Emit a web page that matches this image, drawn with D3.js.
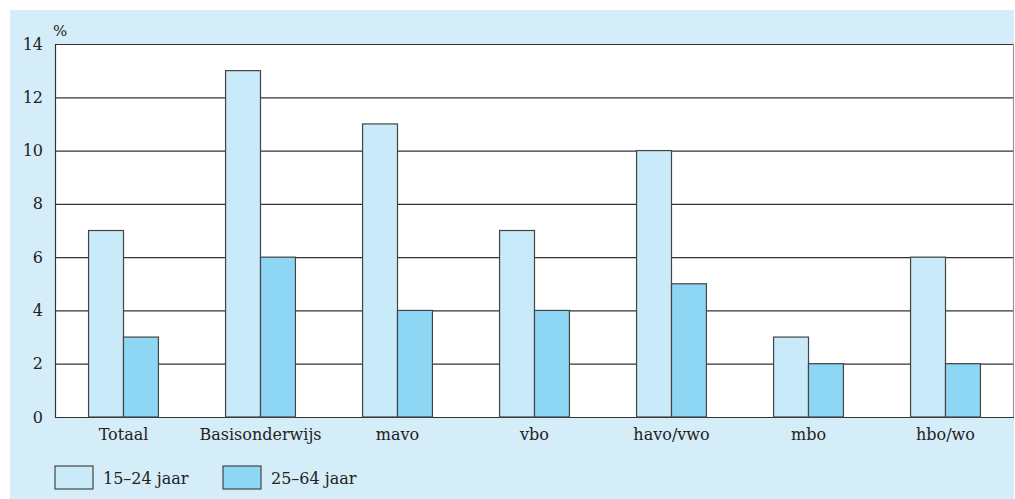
<!DOCTYPE html>
<html>
<head>
<meta charset="utf-8">
<style>
    body { margin: 0; background: #fff; }
    svg { display: block; font-family: "DejaVu Serif", "Liberation Serif", serif; }
</style>
<script src="https://cdn.jsdelivr.net/npm/d3@7"></script>
</head>
<body>
<svg width="1015" height="499"></svg>
<script>
    // gegevens
    var categorieen = ["Totaal", "Basisonderwijs", "mavo", "vbo", "havo/vwo", "mbo", "hbo/wo"];
    var jong = [7, 13, 11, 7, 10, 3, 6];     // 15–24 jaar
    var oud = [3, 6, 4, 4, 5, 2, 2];         // 25–64 jaar
    var reeksen = ["15–24 jaar", "25–64 jaar"];
    var yTicks = [0, 2, 4, 6, 8, 10, 12, 14];

    var kleuren = ["#c9eaf9", "#8dd7f5"];

    var svg = d3.select("svg");
    var margin = { top: 44, right: 1, bottom: 82, left: 55 };
    var width = 1015 - margin.left - margin.right,
        height = 499 - margin.top - margin.bottom;

    // blauw paneel
    svg.append("rect")
        .attr("x", 10).attr("y", 10)
        .attr("width", 1004).attr("height", 489)
        .attr("fill", "#d5edf9");

    var g = svg.append("g")
        .attr("transform", "translate(" + margin.left + "," + margin.top + ")");

    g.append("rect")
        .attr("width", width).attr("height", height)
        .attr("fill", "#fff");

    var x0 = d3.scaleBand().domain(categorieen).range([0, width]).paddingInner(0.49).paddingOuter(0.245);
    var x1 = d3.scaleBand().domain(reeksen).range([0, x0.bandwidth()]);
    var y = d3.scaleLinear().domain([0, 14]).range([height, 0]);

    // rasterlijnen
    g.selectAll(".grid")
        .data(yTicks)
        .enter().append("line")
        .attr("x1", 0).attr("x2", width)
        .attr("y1", function (d) { return y(d) + 0.5; })
        .attr("y2", function (d) { return y(d) + 0.5; })
        .attr("stroke", "#333")
        .attr("stroke-width", 1.2);

    g.append("line")
        .attr("x1", 0.5).attr("x2", 0.5).attr("y1", 0).attr("y2", height)
        .attr("stroke", "#333").attr("stroke-width", 1.2);
    g.append("line")
        .attr("x1", width - 0.5).attr("x2", width - 0.5).attr("y1", 0).attr("y2", height)
        .attr("stroke", "#999").attr("stroke-width", 1.2);

    // staven
    var groep = g.selectAll(".groep")
        .data(categorieen)
        .enter().append("g")
        .attr("transform", function (d) { return "translate(" + x0(d) + ",0)"; });

    groep.selectAll("rect")
        .data(function (d, i) { return [{ s: reeksen[0], v: jong[i] }, { s: reeksen[1], v: oud[i] }]; })
        .enter().append("rect")
        .attr("x", function (d) { return x1(d.s); })
        .attr("y", function (d) { return y(d.v); })
        .attr("width", x1.bandwidth())
        .attr("height", function (d) { return height - y(d.v); })
        .attr("fill", function (d, i) { return kleuren[i]; })
        .attr("stroke", "#444")
        .attr("stroke-width", 1.2);

    // y-as
    var yAs = g.append("g")
        .call(d3.axisLeft(y).tickValues(yTicks).tickSize(0).tickPadding(12));
    yAs.select(".domain").remove();
    yAs.selectAll("text")
        .attr("font-family", "DejaVu Serif, Liberation Serif, serif")
        .attr("font-size", 16).attr("fill", "#222");

    g.append("text")
        .attr("x", -2).attr("y", -8)
        .attr("font-size", 15).attr("fill", "#222")
        .text("%");

    // x-as
    var xAs = g.append("g")
        .attr("transform", "translate(0," + height + ")")
        .call(d3.axisBottom(x0).tickSize(0).tickPadding(12));
    xAs.select(".domain").remove();
    xAs.selectAll("text")
        .attr("font-family", "DejaVu Serif, Liberation Serif, serif")
        .attr("font-size", 16).attr("fill", "#222");

    // legenda
    var legenda = svg.append("g")
        .attr("transform", "translate(55,466)");
    var item = legenda.selectAll("g")
        .data(reeksen)
        .enter().append("g")
        .attr("transform", function (d, i) { return "translate(" + (i * 168) + ",0)"; });
    item.append("rect")
        .attr("width", 38).attr("height", 23)
        .attr("fill", function (d, i) { return kleuren[i]; })
        .attr("stroke", "#444").attr("stroke-width", 1.2);
    item.append("text")
        .attr("x", 48).attr("y", 18)
        .attr("font-size", 16).attr("fill", "#222")
        .text(function (d) { return d; });
</script>
</body>
</html>
